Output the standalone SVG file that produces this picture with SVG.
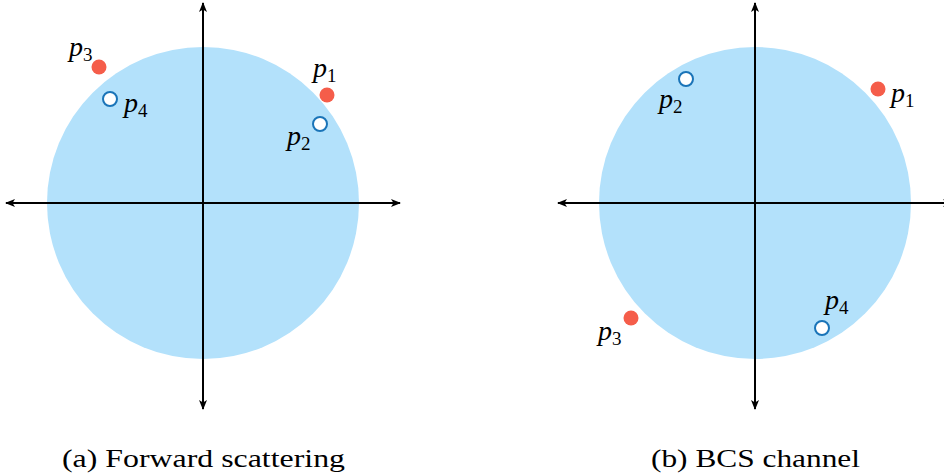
<svg xmlns="http://www.w3.org/2000/svg" width="944" height="476" viewBox="0 0 944 476">
<defs>
<marker id="ah" viewBox="0 0 10 8" refX="9" refY="4" markerWidth="10" markerHeight="8" markerUnits="userSpaceOnUse" orient="auto">
<path d="M0,0 L10,4 L0,8 L2.5,4 Z" fill="#000"/>
</marker>
<style>
.disk{fill:#b3e1fb}
.ax{stroke:#000;stroke-width:2;fill:none;marker-end:url(#ah)}
.red{fill:#f55d4a}
.hol{fill:#fff;stroke:#1a74b8;stroke-width:2}
.lbl{font-family:'Liberation Serif','DejaVu Serif','Times New Roman',serif;font-style:italic;font-size:28px;fill:#000}
.sub{font-style:normal;font-size:19px}
.cap{font-family:'Liberation Serif','DejaVu Serif','Times New Roman',serif;font-size:26px;fill:#000}
</style>
</defs>
<g id="panel-a">
<circle class="disk" cx="203" cy="203" r="156"/>
<g id="axes-a">
<line class="ax" x1="203" y1="203" x2="203" y2="3"/>
<line class="ax" x1="203" y1="203" x2="203" y2="409"/>
<line class="ax" x1="203" y1="203" x2="6" y2="203"/>
<line class="ax" x1="203" y1="203" x2="400" y2="203"/>
</g>
<g id="a-p3"><circle class="red" cx="99" cy="67" r="7.5"/><text class="lbl" x="69" y="56">p<tspan class="sub" dy="5">3</tspan></text></g>
<g id="a-p4"><circle class="hol" cx="110" cy="99" r="7"/><text class="lbl" x="124" y="112">p<tspan class="sub" dy="5">4</tspan></text></g>
<g id="a-p1"><circle class="red" cx="327" cy="95" r="7.5"/><text class="lbl" x="313" y="77">p<tspan class="sub" dy="5">1</tspan></text></g>
<g id="a-p2"><circle class="hol" cx="320" cy="124" r="7"/><text class="lbl" x="287" y="145">p<tspan class="sub" dy="5">2</tspan></text></g>
<text class="cap" x="62" y="467" textLength="283" lengthAdjust="spacingAndGlyphs">(a) Forward scattering</text>
</g>
<g id="panel-b">
<circle class="disk" cx="755" cy="203" r="156"/>
<g id="axes-b">
<line class="ax" x1="755" y1="203" x2="755" y2="3"/>
<line class="ax" x1="755" y1="203" x2="755" y2="409"/>
<line class="ax" x1="755" y1="203" x2="558" y2="203"/>
<line class="ax" x1="755" y1="203" x2="952" y2="203"/>
</g>
<g id="b-p2"><circle class="hol" cx="686" cy="79" r="7"/><text class="lbl" x="659" y="108">p<tspan class="sub" dy="5">2</tspan></text></g>
<g id="b-p1"><circle class="red" cx="878" cy="89" r="7.5"/><text class="lbl" x="891" y="102">p<tspan class="sub" dy="5">1</tspan></text></g>
<g id="b-p3"><circle class="red" cx="631" cy="318" r="7.5"/><text class="lbl" x="598" y="340">p<tspan class="sub" dy="5">3</tspan></text></g>
<g id="b-p4"><circle class="hol" cx="822" cy="328" r="7"/><text class="lbl" x="825" y="309">p<tspan class="sub" dy="5">4</tspan></text></g>
<text class="cap" x="651" y="467" textLength="209" lengthAdjust="spacingAndGlyphs">(b) BCS channel</text>
</g>
</svg>
